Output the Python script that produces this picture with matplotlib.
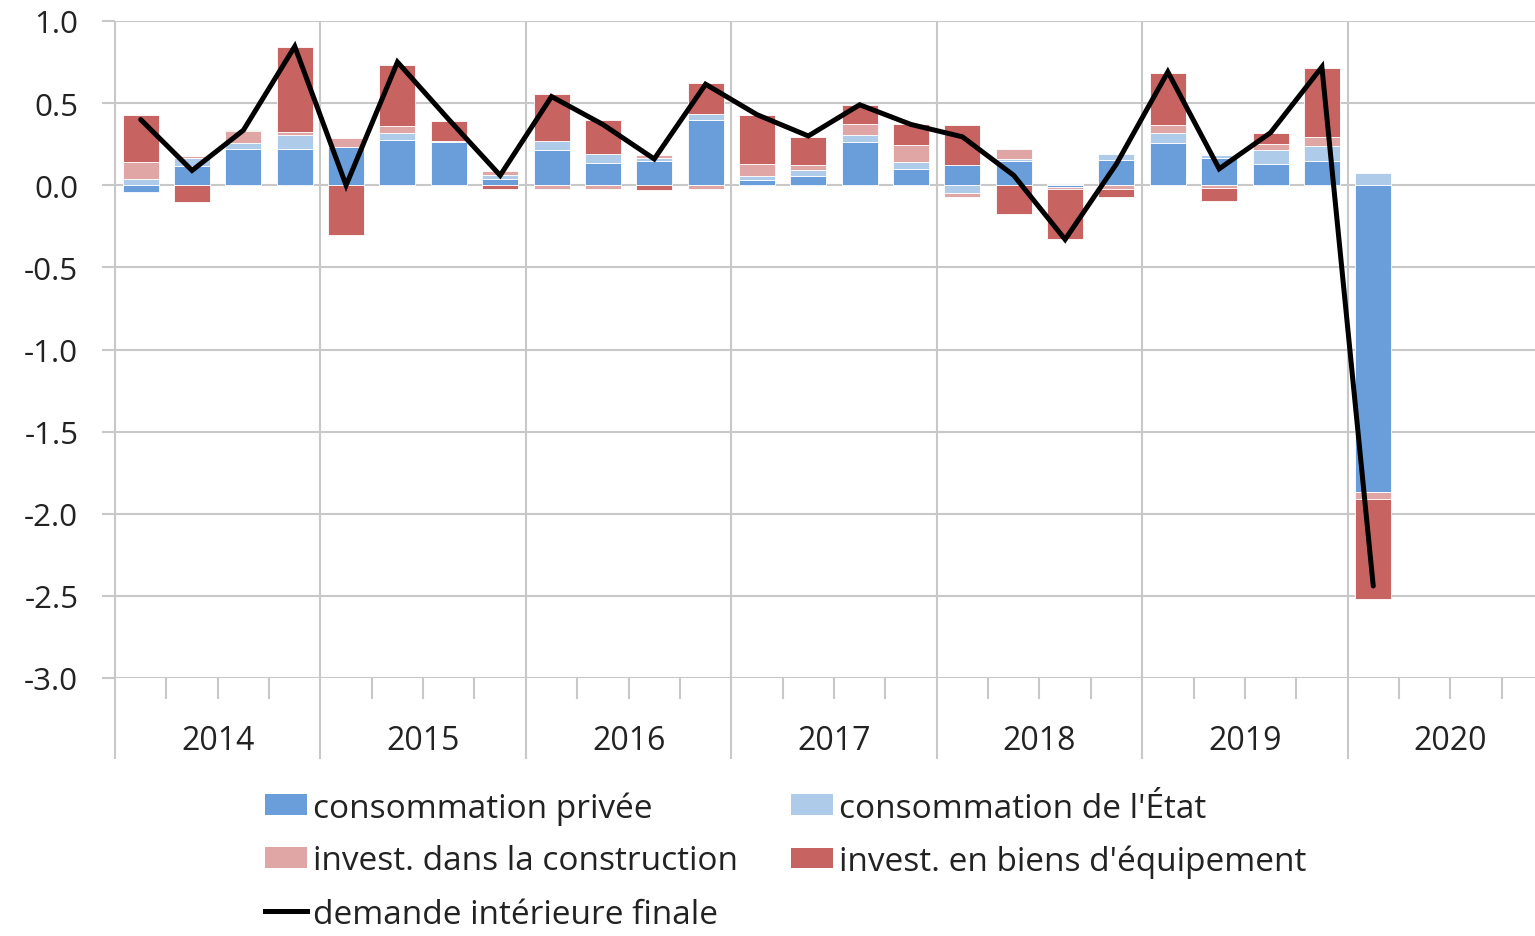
import matplotlib
matplotlib.use("Agg")
import matplotlib.pyplot as plt
import numpy as np
from matplotlib.patches import Patch
from matplotlib.lines import Line2D

plt.rcParams['font.family'] = ['Open Sans', 'DejaVu Sans']
plt.rcParams['axes.unicode_minus'] = False

years = ['2014', '2015', '2016', '2017', '2018', '2019', '2020']

priv = [-0.04, 0.12, 0.22, 0.22, 0.235, 0.275, 0.265, 0.04, 0.213, 0.138, 0.146, 0.40,
        0.03, 0.055, 0.262, 0.098, 0.122, 0.146, -0.01, 0.152, 0.26, 0.163, 0.132, 0.15, -1.868]
etat = [0.04, 0.045, 0.035, 0.085, 0.0, 0.045, 0.006, 0.025, 0.055, 0.055, 0.022, 0.035,
        0.028, 0.04, 0.043, 0.045, -0.05, 0.016, 0.01, 0.04, 0.059, 0.024, 0.085, 0.087, 0.077]
constr = [0.10, 0.012, 0.077, 0.02, 0.055, 0.04, 0.0, 0.02, -0.02, -0.02, 0.018, -0.02,
          0.073, 0.026, 0.065, 0.10, -0.022, 0.06, -0.01, -0.02, 0.045, -0.015, 0.037, 0.059, -0.04]
equip = [0.285, -0.10, 0.005, 0.515, -0.30, 0.37, 0.12, -0.025, 0.286, 0.203, -0.03, 0.19,
         0.295, 0.175, 0.118, 0.132, 0.242, -0.177, -0.31, -0.05, 0.319, -0.08, 0.065, 0.418, -0.614]
demande = [0.40, 0.09, 0.335, 0.845, 0.0, 0.75, 0.40, 0.06, 0.54, 0.37, 0.16, 0.615,
           0.43, 0.30, 0.49, 0.37, 0.295, 0.06, -0.33, 0.13, 0.69, 0.10, 0.32, 0.72, -2.44]

labels = ["consommation privée", "consommation de l'État",
          "invest. dans la construction", "invest. en biens d'équipement"]
line_label = "demande intérieure finale"
colors = ['#6A9EDA', '#AECBE9', '#E0A5A5', '#C76462']
grid_c = '#C8C8C8'

W, H = 1535, 937
fig = plt.figure(figsize=(W / 100, H / 100), dpi=100)
left_px, right_px, top_px, bot_px = 115, 1553, 22, 679
ax = fig.add_axes([left_px / W, 1 - bot_px / H, (right_px - left_px) / W, (bot_px - top_px) / H])

n_q = 28
x = np.arange(len(priv))
pos_b = np.zeros(len(priv))
neg_b = np.zeros(len(priv))
handles = []
for vals, col, lab in zip([priv, etat, constr, equip], colors, labels):
    v = np.array(vals, dtype=float)
    bottom = np.where(v >= 0, pos_b, neg_b)
    ax.bar(x, v, bottom=bottom, width=0.70, color=col, edgecolor='white',
           linewidth=0.6, zorder=2)
    pos_b = pos_b + np.where(v > 0, v, 0)
    neg_b = neg_b + np.where(v < 0, v, 0)
    handles.append(Patch(facecolor=col, edgecolor='none', label=lab))

ax.plot(x, demande, color='black', lw=3.6, zorder=4, solid_capstyle='round',
        solid_joinstyle='miter')
lh = Line2D([], [], color='black', lw=3.6, label=line_label)

ax.set_xlim(-0.5, n_q - 0.5)
ax.set_ylim(-3.0, 1.0)
for s in ax.spines.values():
    s.set_visible(False)

yt = np.arange(-3.0, 1.01, 0.5)
ax.set_yticks(yt)
ax.set_yticklabels(['%.1f' % t for t in yt])
ax.yaxis.grid(True, color=grid_c, lw=1.5, zorder=0)
ax.tick_params(axis='y', length=9.4, width=1.5, color=grid_c, pad=17,
               labelsize=22.5, labelcolor='#222222')

ax.set_xticks([4 * k + 1.5 for k in range(len(years))])
ax.set_xticklabels(years)
ax.tick_params(axis='x', length=0, pad=33, labelsize=23, labelcolor='#222222')

per_px = 4.0 / (bot_px - top_px)
y_sep = -3.0 - 81 * per_px
y_tick = -3.0 - 21 * per_px
ax.vlines([4 * k - 0.5 for k in range(len(years) + 1)], y_sep, 1.0, color=grid_c,
          lw=1.5, clip_on=False, zorder=1)
minor = [i - 0.5 for i in range(1, n_q + 1) if i % 4 != 0]
ax.vlines(minor, y_tick, -3.0, color=grid_c, lw=1.5, clip_on=False, zorder=1)

order = [handles[0], handles[2], lh, handles[1], handles[3]]
fig.legend(handles=order, labels=[h.get_label() for h in order], ncol=2,
           loc='upper left', bbox_to_anchor=(265 / W, 1 - 792 / H), frameon=False,
           fontsize=24, handlelength=1.26, handleheight=0.57, handletextpad=0.18,
           labelspacing=0.6, columnspacing=1.6, borderpad=0, borderaxespad=0,
           labelcolor='#222222')

fig.savefig('out.png', dpi=100)
